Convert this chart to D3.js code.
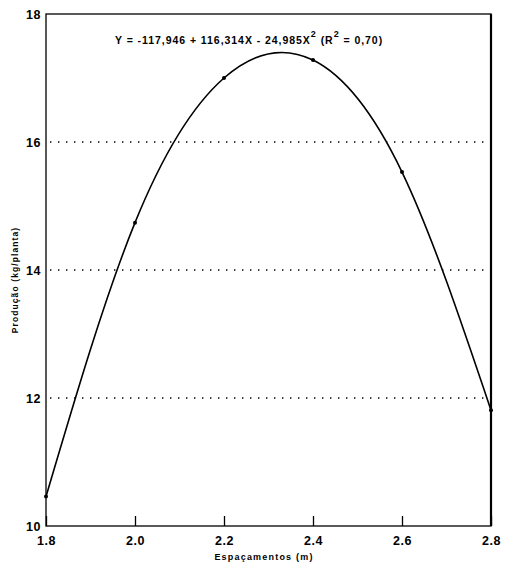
<!DOCTYPE html>
<html><head><meta charset="utf-8">
<script src="https://cdn.jsdelivr.net/npm/d3@7"></script>
<style>body{margin:0;background:#fff}svg{display:block}text{font-family:"Liberation Sans",Arial,sans-serif;font-weight:bold;fill:#000}</style>
</head><body><svg id="c" width="507" height="564"></svg>
<script>
const spacing = [1.8, 2.0, 2.2, 2.4, 2.6, 2.8];
const production = [10.46, 14.74, 17.0, 17.28, 15.53, 11.81];
const xTicks = [1.8, 2.0, 2.2, 2.4, 2.6, 2.8];
const yTicks = [10, 12, 14, 16, 18];
const gridValues = [12, 14, 16];

const svg = d3.select("#c");
const m = {l:46, r:491, t:14, b:526};
const x = d3.scaleLinear().domain([1.8, 2.8]).range([m.l, m.r]);
const y = d3.scaleLinear().domain([10, 18]).range([m.b, m.t]);

// grid
svg.selectAll("line.grid").data(gridValues).enter().append("line")
  .attr("x1", m.l+4).attr("x2", m.r).attr("y1", d=>y(d)).attr("y2", d=>y(d))
  .attr("stroke","#000").attr("stroke-width",1.4).attr("stroke-dasharray","1.4,6.6");

// frame
svg.append("rect").attr("x",m.l).attr("y",m.t).attr("width",m.r-m.l).attr("height",m.b-m.t)
  .attr("fill","none").attr("stroke","#000").attr("stroke-width",1.3);
svg.append("line").attr("x1",m.r).attr("x2",m.r).attr("y1",m.t).attr("y2",m.b)
  .attr("stroke","#000").attr("stroke-width",2.2);

// x axis
const xa = svg.append("g").attr("transform",`translate(0,${m.b})`)
  .call(d3.axisBottom(x).tickValues(xTicks).tickFormat(d3.format(".1f")).tickSizeInner(-10).tickSizeOuter(0).tickPadding(0));
xa.select(".domain").remove();
xa.selectAll("line").attr("stroke-width",1.3);
xa.selectAll("text").attr("y",19).attr("dy",0).style("font-size","12.5px").style("letter-spacing","0.5px");

// y axis
const ya = svg.append("g").attr("transform",`translate(${m.l},0)`)
  .call(d3.axisLeft(y).tickValues(yTicks).tickFormat(d3.format("d")).tickSize(0).tickPadding(5));
ya.select(".domain").remove();
ya.selectAll("text").style("font-size","12.5px").style("letter-spacing","0.5px");

// curve
const pts = spacing.map((s,i)=>[s, production[i]]);
svg.append("path").datum(pts)
  .attr("d", d3.line().x(d=>x(d[0])).y(d=>y(d[1])).curve(d3.curveNatural))
  .attr("fill","none").attr("stroke","#000").attr("stroke-width",1.6);

svg.selectAll("circle").data(pts).enter().append("circle")
  .attr("cx",d=>x(d[0])).attr("cy",d=>y(d[1])).attr("r",2).attr("fill","#000");

// equation
const eq = svg.append("text").attr("x",115).attr("y",44).style("font-size","10.5px").style("letter-spacing","0.95px");
eq.append("tspan").text("Y = -117,946 + 116,314X - 24,985X");
eq.append("tspan").attr("dy",-7).style("font-size","9px").text("2");
eq.append("tspan").attr("dy",7).text(" (R");
eq.append("tspan").attr("dy",-7).style("font-size","9px").text("2");
eq.append("tspan").attr("dy",7).text(" = 0,70)");

// axis titles
svg.append("text").attr("x",264).attr("y",560).attr("text-anchor","middle")
  .style("font-size","9px").style("letter-spacing","1.2px").text("Espaçamentos (m)");
svg.append("text").attr("transform",`translate(18,280) rotate(-90)`).attr("text-anchor","middle")
  .style("font-size","8.5px").style("letter-spacing","1.1px").text("Produção  (kg/planta)");
</script></body></html>
